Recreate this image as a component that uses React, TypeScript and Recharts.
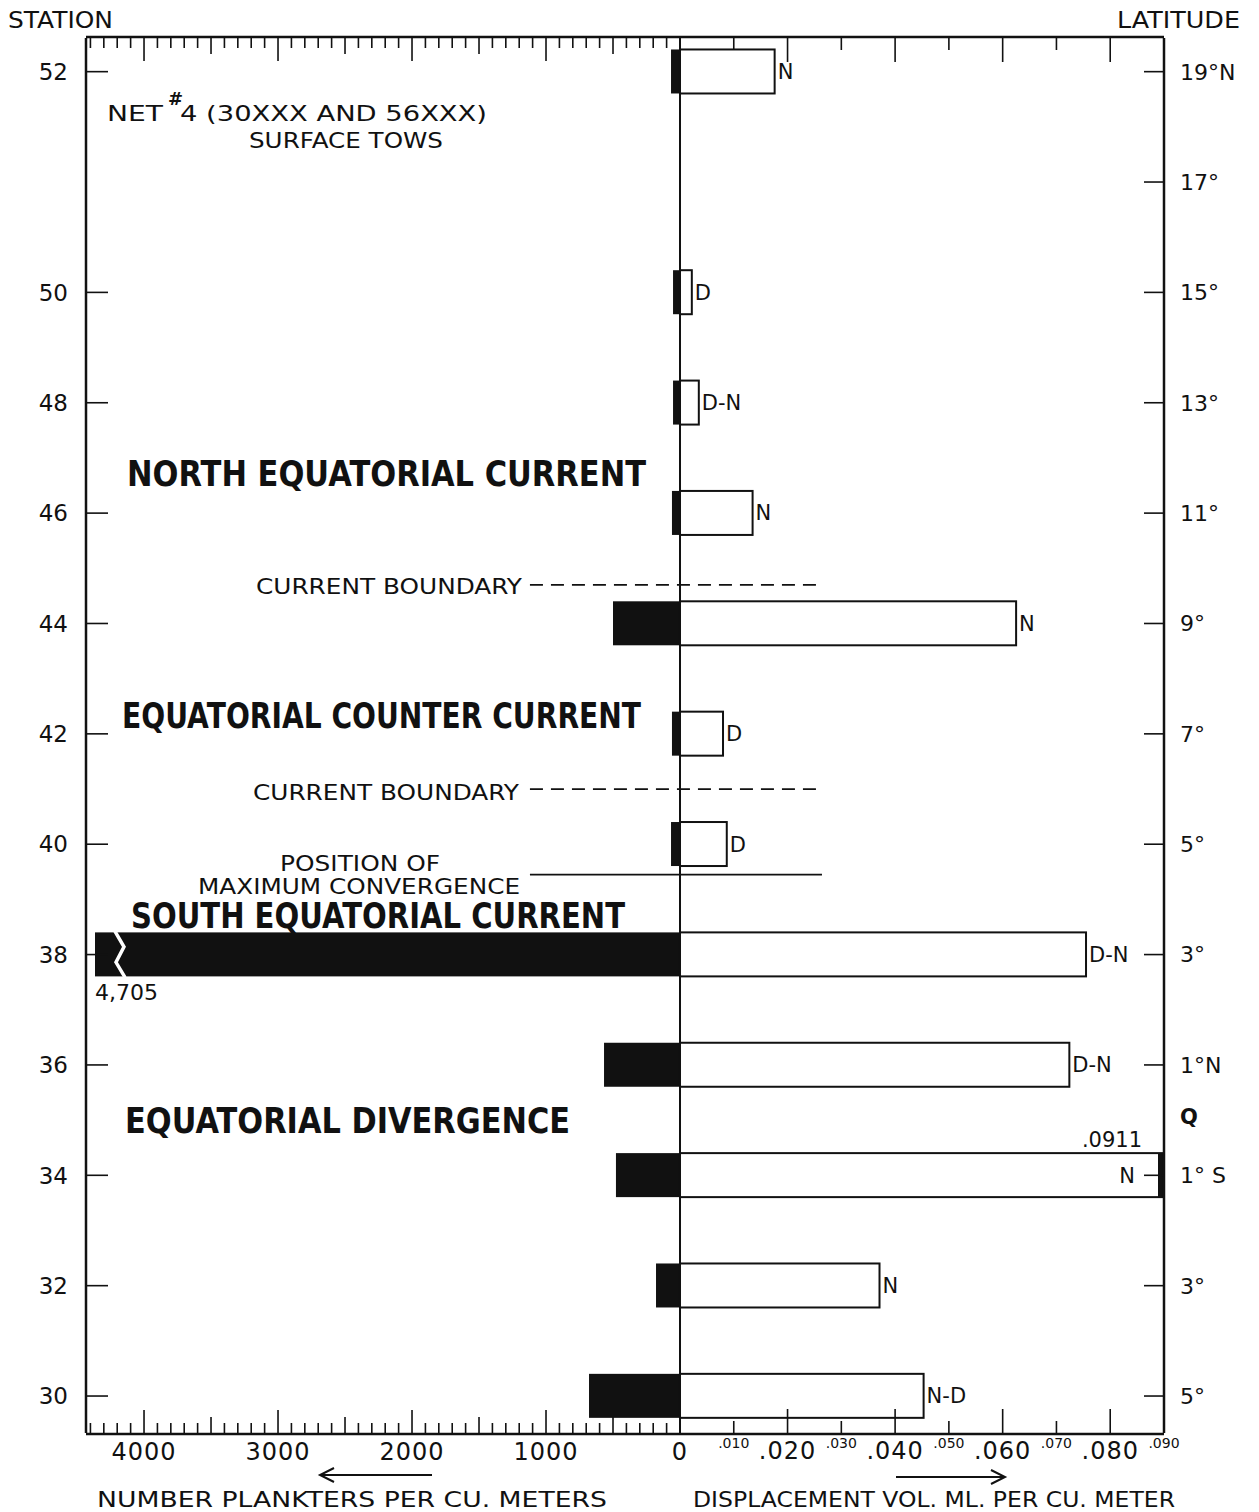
import React from 'react';
import { BarChart, Bar, XAxis, YAxis, ReferenceLine, LabelList } from 'recharts';

// station data, top (north) to bottom (south)
const stations = [52, 50, 48, 46, 44, 42, 40, 38, 36, 34, 32, 30];
const latitudes = [19, 15, 13, 11, 9, 7, 5, 3, 1, -1, -3, -5];
const plankters = [67, 52, 52, 60, 500, 60, 67, 4705, 567, 478, 179, 679];
const displacement = [0.0176, 0.0022, 0.0035, 0.0135, 0.0625, 0.008, 0.0087, 0.0755, 0.0724, 0.0911, 0.0371, 0.0453];
const towTimes = ['N', 'D', 'D-N', 'N', 'N', 'D', 'D', 'D-N', 'D-N', 'N', 'N', 'N-D'];

// right axis
const latTicks = [19, 17, 15, 13, 11, 9, 7, 5, 3, 1, 0, -1, -3, -5];
const latLabels = ['19°N', '17°', '15°', '13°', '11°', '9°', '7°', '5°', '3°', '1°N', 'Q', '1° S', '3°', '5°'];

// x axes
const plankterLabels = [4000, 3000, 2000, 1000, 0];
const plankterTicks: number[] = [];
for (let v = 4400; v >= 0; v -= 100) plankterTicks.push(-v);
const dispTicks = [0, 0.01, 0.02, 0.03, 0.04, 0.05, 0.06, 0.07, 0.08, 0.09];

// boundaries (latitude) drawn across the zero line
const boundaries = [
  { lat: 9.7, dashed: true },
  { lat: 6.0, dashed: true },
  { lat: 4.45, dashed: false },
];

const W = 1240;
const H = 1504;
const M = { top: 28, right: 83, bottom: 77, left: 77 };
const PLOT_LEFT = 78;
const PLOT_RIGHT = 1156;
const P_DOMAIN: [number, number] = [-4433, 3612];
const D_DOMAIN: [number, number] = [-0.11045, 0.09];
const LAT_DOMAIN: [number, number] = [-5.67, 19.61];
const FONT = '"DejaVu Sans", sans-serif';
const INK = '#111';

const data = stations.map((s, i) => ({
  station: s,
  lat: latitudes[i],
  plankters: -plankters[i],
  disp: displacement[i],
  tag: towTimes[i],
}));

const tickLen = (major: boolean, mid: boolean) => (major ? 24 : mid ? 17 : 11);

const PlankterTick = ({ x, y, payload, top }: any) => {
  const v = Math.abs(payload.value);
  const len = tickLen(v % 1000 === 0, v % 500 === 0);
  const dir = top ? 1 : -1;
  return (
    <g>
      {v !== 0 && <line x1={x} x2={x} y1={y} y2={y + dir * len} stroke={INK} strokeWidth={1.6} />}
      {!top && plankterLabels.includes(v) && (
        <text x={x} y={y + 26} textAnchor="middle" fontFamily={FONT} fontSize={24} fill={INK} letterSpacing={1}>
          {v}
        </text>
      )}
    </g>
  );
};

const DispTick = ({ x, y, payload, top }: any) => {
  const v = payload.value;
  if (v === 0) return <g />;
  const hund = Math.round(v * 100);
  const even = hund % 2 === 0;
  const len = even ? 24 : 12;
  const dir = top ? 1 : -1;
  const label = v.toFixed(3).replace(/^0/, '');
  return (
    <g>
      <line x1={x} x2={x} y1={y} y2={y + dir * len} stroke={INK} strokeWidth={1.6} />
      {!top && (
        even ? (
          <text x={x} y={y + 26} textAnchor="middle" fontFamily={FONT} fontSize={24} fill={INK} letterSpacing={1}>
            {label}
          </text>
        ) : (
          <text x={x} y={y + 15} textAnchor="middle" fontFamily={FONT} fontSize={14} fill={INK}>
            {label}
          </text>
        )
      )}
    </g>
  );
};

const StationTick = ({ x, y, payload }: any) => {
  const i = latitudes.indexOf(payload.value);
  return (
    <g>
      <line x1={x} x2={x + 22} y1={y} y2={y} stroke={INK} strokeWidth={1.6} />
      <text x={x - 18} y={y} dy="0.36em" textAnchor="end" fontFamily={FONT} fontSize={23} fill={INK}>
        {stations[i]}
      </text>
    </g>
  );
};

const LatTick = ({ x, y, payload }: any) => {
  const i = latTicks.indexOf(payload.value);
  const isEq = payload.value === 0;
  return (
    <g>
      {!isEq && <line x1={x} x2={x - 20} y1={y} y2={y} stroke={INK} strokeWidth={1.6} />}
      <text x={x + 16} y={isEq ? y - 4 : y} dy="0.36em" textAnchor="start" fontFamily={FONT}
        fontSize={isEq ? 21 : 22} fontWeight={isEq ? 'bold' : 'normal'} fill={INK}>
        {latLabels[i]}
      </text>
    </g>
  );
};

// black bar, with a break when it runs off the axis
const PlankterShape = (props: any) => {
  const { x, y, width, height, payload } = props;
  const x0 = Math.min(x, x + width);
  const x1 = Math.max(x, x + width);
  if (-payload.plankters > -P_DOMAIN[0]) {
    const left = PLOT_LEFT + 9;
    return (
      <g>
        <rect x={left} y={y} width={x1 - left} height={height} fill={INK} />
        <polyline
          points={`${left + 20},${y - 1} ${left + 29},${y + height * 0.33} ${left + 21},${y + height * 0.68} ${left + 30},${y + height + 1}`}
          fill="none" stroke="#fff" strokeWidth={3.5}
        />
        <text x={left} y={y + height + 24} fontFamily={FONT} fontSize={22} fill={INK}>
          {(-payload.plankters).toLocaleString('en-US')}
        </text>
      </g>
    );
  }
  return <rect x={x0} y={y} width={x1 - x0} height={height} fill={INK} />;
};

// white bar; a bar running past the axis gets a heavy end
const DispShape = (props: any) => {
  const { x, y, width, height, payload } = props;
  const over = payload.disp > D_DOMAIN[1];
  return (
    <g>
      <rect x={x} y={y} width={width} height={height} fill="#fff" stroke={INK} strokeWidth={2} />
      {over && <rect x={PLOT_RIGHT - 6} y={y} width={7} height={height} fill={INK} />}
    </g>
  );
};

const TagLabel = (props: any) => {
  const { x, y, width, height, value, index } = props;
  const end = x + width;
  const v = displacement[index];
  if (v > D_DOMAIN[1]) {
    return (
      <g fontFamily={FONT} fill={INK}>
        <text x={PLOT_RIGHT - 29} y={y + height / 2} dy="0.36em" textAnchor="end" fontSize={21}>{value}</text>
        <text x={PLOT_RIGHT - 22} y={y - 6} textAnchor="end" fontSize={21}>{String(v).replace(/^0/, '')}</text>
      </g>
    );
  }
  return (
    <text x={end + 3} y={y + height / 2} dy="0.36em" fontFamily={FONT} fontSize={21} fill={INK}>
      {value}
    </text>
  );
};

const T = ({ x, y, w, size = 22, children }: any) => (
  <text x={x} y={y} textLength={w} lengthAdjust="spacingAndGlyphs" fontFamily={FONT}
    fontSize={size} fill={INK}>
    {children}
  </text>
);

// condensed bold region titles
const B = ({ x, y, w, children }: any) => (
  <text transform={`translate(${x} ${y}) scale(0.8 1)`} textLength={w / 0.8} lengthAdjust="spacingAndGlyphs"
    fontFamily={FONT} fontSize={35} fontWeight="bold" fill={INK}>
    {children}
  </text>
);

export default function App() {
  return (
    <div style={{ position: 'relative', width: W, height: H, background: '#fff' }}>
      <BarChart width={W} height={H} data={data} layout="vertical" margin={M}>
        <XAxis xAxisId="p" type="number" orientation="bottom" domain={P_DOMAIN} allowDataOverflow
          ticks={plankterTicks} interval={0} height={1} tickSize={0} tickMargin={0} tickLine={false}
          axisLine={{ stroke: INK, strokeWidth: 2.5 }} tick={<PlankterTick />} />
        <XAxis xAxisId="d" type="number" orientation="bottom" domain={D_DOMAIN} allowDataOverflow
          ticks={dispTicks} interval={0} height={1} tickSize={0} tickMargin={0} tickLine={false}
          axisLine={false} tick={<DispTick />} />
        <XAxis xAxisId="pt" type="number" orientation="top" domain={P_DOMAIN} allowDataOverflow
          ticks={plankterTicks} interval={0} height={1} tickSize={0} tickMargin={0} tickLine={false}
          axisLine={{ stroke: INK, strokeWidth: 2.5 }} tick={<PlankterTick top />} />
        <XAxis xAxisId="dt" type="number" orientation="top" domain={D_DOMAIN} allowDataOverflow
          ticks={dispTicks} interval={0} height={1} tickSize={0} tickMargin={0} tickLine={false}
          axisLine={false} tick={<DispTick top />} />
        <YAxis yAxisId="left" dataKey="lat" type="number" orientation="left" domain={LAT_DOMAIN} allowDataOverflow
          reversed ticks={latitudes} interval={0} width={1} tickSize={0} tickMargin={0} tickLine={false}
          axisLine={{ stroke: INK, strokeWidth: 2.5 }} tick={<StationTick />} />
        <YAxis yAxisId="right" dataKey="lat" type="number" orientation="right" domain={LAT_DOMAIN} allowDataOverflow
          reversed ticks={latTicks} interval={0} width={1} tickSize={0} tickMargin={0} tickLine={false}
          axisLine={{ stroke: INK, strokeWidth: 2.5 }} tick={<LatTick />} />

        <Bar dataKey="plankters" xAxisId="p" yAxisId="left" barSize={44} isAnimationActive={false}
          shape={<PlankterShape />} />
        <Bar dataKey="disp" xAxisId="d" yAxisId="right" barSize={44} isAnimationActive={false}
          shape={<DispShape />}>
          <LabelList dataKey="tag" content={<TagLabel />} />
        </Bar>

        <ReferenceLine xAxisId="p" yAxisId="left" x={0} stroke={INK} strokeWidth={2} />
        {boundaries.map((b) => (
          <ReferenceLine key={b.lat} xAxisId="d" yAxisId="left"
            segment={[{ x: -0.0279, y: b.lat }, { x: 0.0264, y: b.lat }]}
            stroke={INK} strokeWidth={1.8} strokeDasharray={b.dashed ? '13 8' : undefined} />
        ))}
      </BarChart>

      <svg width={W} height={H} style={{ position: 'absolute', left: 0, top: 0, pointerEvents: 'none' }}>
        <T x={0} y={20} w={105} size={23}>STATION</T>
        <T x={1109} y={20} w={123} size={23}>LATITUDE</T>

        <T x={99} y={113} w={56}>NET</T>
        <text x={160} y={97} fontFamily={FONT} fontSize={18} fontWeight="bold" fill={INK}>#</text>
        <T x={172} y={113} w={307}>4 (30XXX AND 56XXX)</T>
        <T x={241} y={140} w={194}>SURFACE TOWS</T>

        <B x={119} y={478} w={519}>NORTH EQUATORIAL CURRENT</B>
        <T x={248} y={586} w={266}>CURRENT BOUNDARY</T>
        <B x={114} y={720} w={519}>EQUATORIAL COUNTER CURRENT</B>
        <T x={245} y={792} w={266}>CURRENT BOUNDARY</T>
        <T x={272} y={863} w={160}>POSITION OF</T>
        <T x={190} y={886} w={322}>MAXIMUM CONVERGENCE</T>
        <B x={123} y={920} w={494}>SOUTH EQUATORIAL CURRENT</B>
        <B x={117} y={1125} w={445}>EQUATORIAL DIVERGENCE</B>

        <line x1={314} x2={424} y1={1467} y2={1467} stroke={INK} strokeWidth={2} />
        <polyline points="326,1460 312,1467 326,1474" fill="none" stroke={INK} strokeWidth={2} />
        <line x1={888} x2={995} y1={1469} y2={1469} stroke={INK} strokeWidth={2} />
        <polyline points="983,1462 997,1469 983,1476" fill="none" stroke={INK} strokeWidth={2} />
        <T x={89} y={1499} w={510}>NUMBER PLANKTERS PER CU. METERS</T>
        <T x={685} y={1499} w={482}>DISPLACEMENT VOL. ML. PER CU. METER</T>
      </svg>
    </div>
  );
}
